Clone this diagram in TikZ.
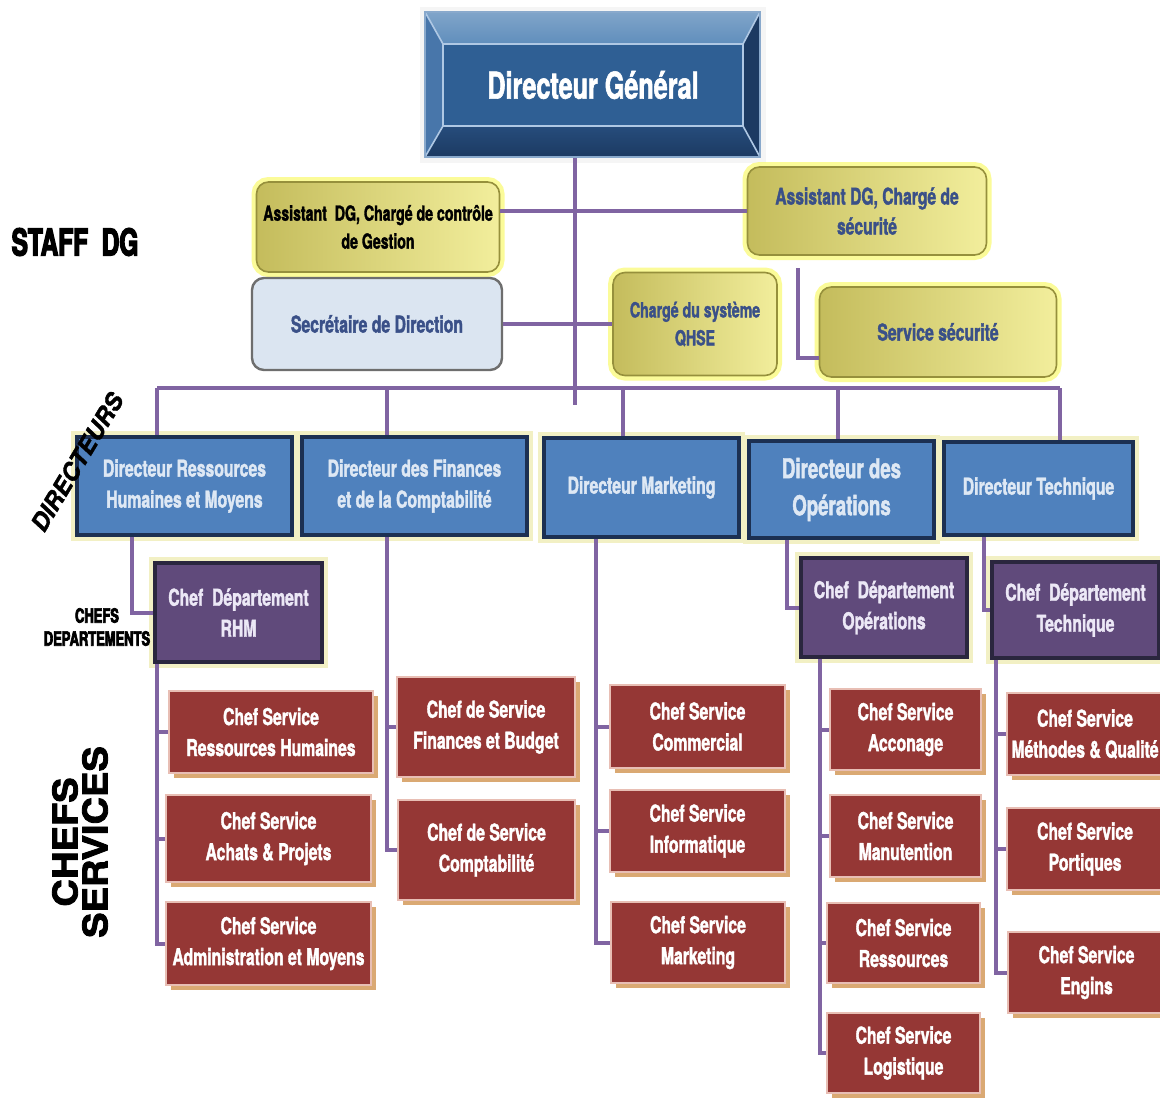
\documentclass[tikz,border=0pt]{standalone}
\usepackage{fontspec}
\usepackage{tikz}
\usetikzlibrary{positioning, shadows, calc}
\newfontfamily\narrowsf{TeX Gyre Heros}[FakeStretch=0.68, BoldFeatures={FakeBold=1.6}]
\newfontfamily\heavysf{TeX Gyre Heros}[FakeStretch=0.66, BoldFeatures={FakeBold=3.5}]
\newfontfamily\plainsf{TeX Gyre Heros}[BoldItalicFeatures={FakeBold=1.5}]
\newfontfamily\widesf{TeX Gyre Heros}[FakeStretch=1.12, BoldFeatures={FakeBold=2.5}]

\definecolor{LinkPurple}{RGB}{128,100,162}
\definecolor{DirBlue}{RGB}{79,129,189}
\definecolor{DirNavy}{RGB}{28,48,82}
\definecolor{DirText}{RGB}{222,232,244}
\definecolor{DeptPurple}{RGB}{96,74,123}
\definecolor{DeptDark}{RGB}{42,38,62}
\definecolor{DeptText}{RGB}{236,232,246}
\definecolor{ServRed}{RGB}{149,55,53}
\definecolor{ServPink}{RGB}{232,190,180}
\definecolor{ServTan}{RGB}{214,160,100}
\definecolor{YelDark}{RGB}{196,188,92}
\definecolor{YelLight}{RGB}{242,238,156}
\definecolor{YelEdge}{RGB}{150,144,60}
\definecolor{YelGlow}{RGB}{250,250,110}
\definecolor{SlateText}{RGB}{58,80,136}
\definecolor{SecFill}{RGB}{219,229,241}
\definecolor{SecEdge}{RGB}{110,110,110}
\definecolor{HaloYel}{RGB}{242,240,196}
\definecolor{DGFace}{RGB}{47,95,148}
\definecolor{DGTop}{RGB}{96,142,188}
\definecolor{DGLeft}{RGB}{72,118,170}
\definecolor{DGRight}{RGB}{28,58,98}
\definecolor{DGBottom}{RGB}{36,72,118}
\definecolor{DGSeam}{RGB}{175,200,228}

\begin{document}
\begin{tikzpicture}[x=0.5pt, y=-0.5pt,
    link/.style={draw=LinkPurple, line width=2pt},
    boxsize/.style 2 args={minimum width=#1*0.5pt, minimum height=#2*0.5pt},
    boxfont/.style={font=\narrowsf\bfseries\fontsize{11.6}{15.5}\selectfont},
    dirbox/.style={rectangle, fill=DirBlue, draw=DirNavy, line width=2.3pt,
      text=DirText, align=center, inner sep=2pt, boxfont,
      preaction={draw=HaloYel, line width=6pt}},
    deptbox/.style={dirbox, fill=DeptPurple, draw=DeptDark, text=DeptText},
    servbox/.style={rectangle, fill=ServRed, draw=ServPink, line width=0.8pt,
      text=white, align=center, inner sep=2pt, boxfont,
      drop shadow={fill=ServTan, opacity=0.9, shadow xshift=2.5pt, shadow yshift=-2.5pt}},
    ylwbox/.style={rectangle, rounded corners=6pt, left color=YelDark, right color=YelLight,
      draw=YelEdge, line width=0.8pt, align=center, inner sep=2pt, text=SlateText, boxfont,
      preaction={draw=YelGlow, line width=5pt, opacity=0.7}},
    secbox/.style={rectangle, rounded corners=6pt, fill=SecFill, draw=SecEdge, line width=1.2pt,
      align=center, inner sep=2pt, text=SlateText, boxfont}]

  % Frame
  \fill[white] (0,0) rectangle (1160,1098);
  \useasboundingbox (0,0) rectangle (1160,1098);
  \clip (0,0) rectangle (1160,1098);

  % Directeur General (bevelled box)
  \fill[gray!8] (420,7) rectangle (766,163);
  \shade[top color=DGTop!80!white, bottom color=DGTop] (425,12) -- (760,12) -- (743,44) -- (443,44) -- cycle;
  \fill[DGLeft] (425,12) -- (443,44) -- (443,126) -- (425,157) -- cycle;
  \fill[DGRight] (760,12) -- (760,157) -- (743,126) -- (743,44) -- cycle;
  \shade[top color=DGBottom!80!DGFace, bottom color=DGRight] (425,157) -- (443,126) -- (743,126) -- (760,157) -- cycle;
  \fill[DGFace] (443,44) rectangle (743,126);
  \draw[DGSeam, line width=0.8pt] (425,12) -- (443,44) (760,12) -- (743,44)
    (425,157) -- (443,126) (760,157) -- (743,126);
  \draw[DGSeam, line width=0.8pt] (443,44) rectangle (743,126);
  \draw[DGSeam!70!DGFace, line width=0.6pt] (425,12) rectangle (760,157);
  \node[text=white, font=\narrowsf\bfseries\fontsize{18.5}{20}\selectfont, boxsize={335}{145}]
    (dg) at (593,85) {Directeur Général};

  % Staff DG
  \node[ylwbox, text=black, font=\narrowsf\bfseries\fontsize{10.4}{14}\selectfont, boxsize={243}{90}]
    (actrl) at (378,227) {Assistant~ DG, Chargé de contrôle\\de Gestion};
  \node[secbox, boxsize={250}{92}] (sec) at (377,324) {Secrétaire de Direction};
  \node[ylwbox, font=\narrowsf\bfseries\fontsize{10.4}{14}\selectfont, boxsize={164}{103}]
    (qhse) at (695,324) {Chargé du système\\QHSE};
  \node[ylwbox, font=\narrowsf\bfseries\fontsize{11.5}{15}\selectfont, boxsize={239}{88}]
    (asec) at (867,211) {Assistant DG, Chargé de\\sécurité};
  \node[ylwbox, boxsize={237}{90}] (ssec) at (938,332) {Service sécurité};

  % Directeurs
  \node[dirbox, boxsize={215}{98}] (drh) at (184.5,486) {Directeur Ressources\\Humaines et Moyens};
  \node[dirbox, boxsize={225}{98}] (dfin) at (414.5,486) {Directeur des Finances\\et de la Comptabilité};
  \node[dirbox, boxsize={195}{99}] (dmkt) at (641.5,487.5) {Directeur Marketing};
  \node[dirbox, font=\narrowsf\bfseries\fontsize{13.7}{18.5}\selectfont, boxsize={185}{97}]
    (dops) at (841.5,489.5) {Directeur des\\Opérations};
  \node[dirbox, boxsize={189}{93}] (dtech) at (1038.5,488.5) {Directeur Technique};

  % Chefs departements
  \node[deptbox, boxsize={167}{99}] (rhm) at (238.5,612.5) {Chef~ Département\\RHM};
  \node[deptbox, boxsize={166}{99}] (dpops) at (884,607.5) {Chef~ Département\\Opérations};
  \node[deptbox, boxsize={167}{96}] (dptech) at (1075.5,610) {Chef~ Département\\Technique};

  % Chefs services
  \node[servbox, boxsize={204}{82}] (csrh) at (271,732) {Chef Service\\Ressources Humaines};
  \node[servbox, boxsize={205}{87}] (csach) at (268.5,838.5) {Chef Service\\Achats \& Projets};
  \node[servbox, boxsize={205}{83}] (csadm) at (268.5,943.5) {Chef Service\\Administration et Moyens};
  \node[servbox, boxsize={178}{100}] (csfin) at (486,727) {Chef de Service\\Finances et Budget};
  \node[servbox, boxsize={177}{100}] (cscpt) at (486.5,850) {Chef de Service\\Comptabilité};
  \node[servbox, boxsize={175}{83}] (cscom) at (697.5,726.5) {Chef Service\\Commercial};
  \node[servbox, boxsize={175}{82}] (csinf) at (697.5,831) {Chef Service\\Informatique};
  \node[servbox, boxsize={174}{81}] (csmkt) at (698,942.5) {Chef Service\\Marketing};
  \node[servbox, boxsize={151}{81}] (csacc) at (905.5,729.5) {Chef Service\\Acconage};
  \node[servbox, boxsize={151}{82}] (csman) at (905.5,836) {Chef Service\\Manutention};
  \node[servbox, boxsize={153}{80}] (csres) at (903.5,943) {Chef Service\\Ressources};
  \node[servbox, boxsize={153}{80}] (cslog) at (903.5,1053) {Chef Service\\Logistique};
  \node[servbox, boxsize={156}{82}] (csmeth) at (1085,734) {Chef Service\\Méthodes \& Qualité};
  \node[servbox, boxsize={156}{82}] (cspor) at (1085,849) {Chef Service\\Portiques};
  \node[servbox, boxsize={157}{81}] (cseng) at (1086.5,972.5) {Chef Service\\Engins};

  % Level labels
  \node[font=\heavysf\bfseries\fontsize{18.5}{20}\selectfont] (lstaff) at (75,242) {STAFF~ DG};
  \node[rotate=59, inner sep=0pt, font=\plainsf\bfseries\itshape\fontsize{12}{14}\selectfont] (ldir) at (77,462) {DIRECTEURS};
  \node[align=center, font=\heavysf\bfseries\fontsize{9.8}{11.5}\selectfont] (ldept) at (97,627) {CHEFS\\DEPARTEMENTS};
  \node[rotate=90, align=center, font=\widesf\bfseries\fontsize{17}{15}\selectfont] (lserv) at (80,842) {CHEFS\\SERVICES};

  % Trunk and staff links
  \coordinate (trunk) at (575,405);
  \draw[link] (trunk |- dg.south) -- (trunk);
  \draw[link] (actrl.east |- asec.west) -- (asec.west);
  \draw[link] (sec.east) -- (qhse.west);
  \coordinate (secdrop) at (798,268);
  \draw[link] (secdrop) |- ([yshift=-13pt]ssec.west);

  % Bus to directeurs
  \draw[link] (157,388) -- (1060,388);
  \foreach \x/\n in {157/drh, 387/dfin, 623/dmkt, 838/dops, 1060/dtech}
    \draw[link] (\x,388) -- (\x,0 |- \n.north);

  % Directeurs to departements
  \draw[link] (drh.south -| 132,0) |- (rhm.west);
  \draw[link] (dops.south -| 787,0) |- (dpops.west);
  \draw[link] (dtech.south -| 984,0) |- (dptech.west);

  % Columns of services
  \draw[link] (rhm.south -| 157,0) |- (csadm.west);
  \foreach \n in {csrh, csach} \draw[link] (157,0 |- \n.west) -- (\n.west);
  \draw[link] (dfin.south -| 387,0) |- (cscpt.west);
  \draw[link] (387,0 |- csfin.west) -- (csfin.west);
  \draw[link] (dmkt.south -| 596,0) |- (csmkt.west);
  \foreach \n in {cscom, csinf} \draw[link] (596,0 |- \n.west) -- (\n.west);
  \draw[link] (dpops.south -| 820,0) |- (cslog.west);
  \foreach \n in {csacc, csman, csres} \draw[link] (820,0 |- \n.west) -- (\n.west);
  \draw[link] (dptech.south -| 996,0) |- (cseng.west);
  \foreach \n in {csmeth, cspor} \draw[link] (996,0 |- \n.west) -- (\n.west);
\end{tikzpicture}
\end{document}
